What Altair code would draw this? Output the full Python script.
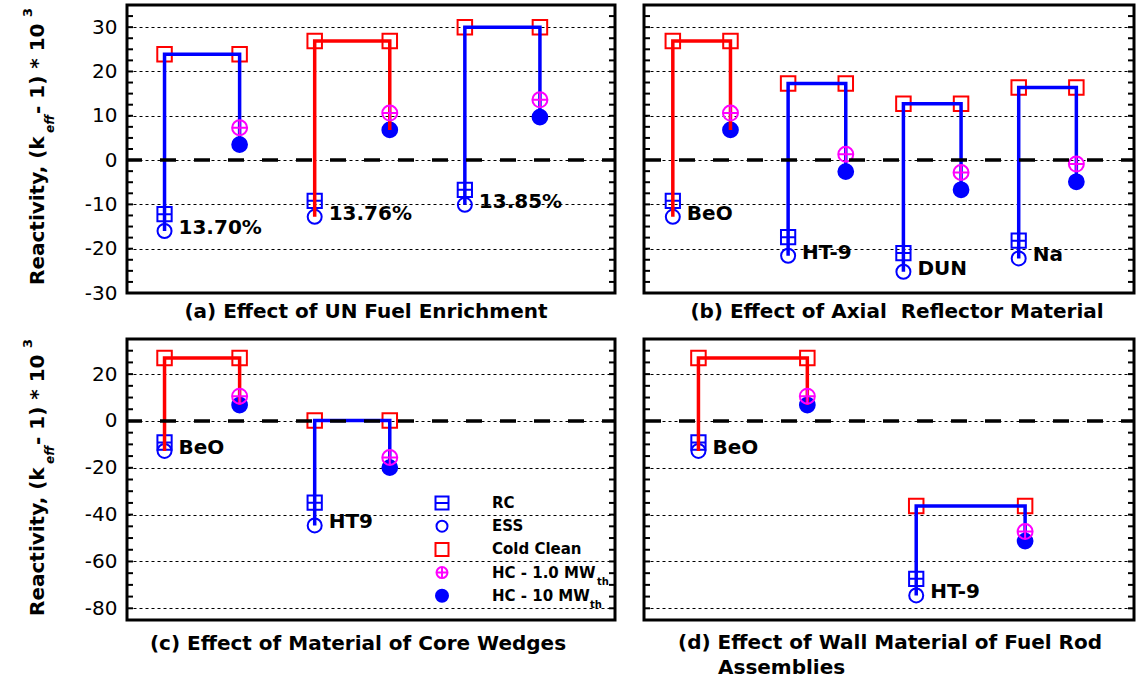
import altair as alt
import numpy as np
import pandas as pd

FONT = "DejaVu Sans"
BLUE, RED, MAGENTA = "#0000ff", "#ff0000", "#ff00ff"

# ---- (a) UN fuel enrichment ----
a_cases = ["13.70%", "13.76%", "13.85%"]
a_rc = [-12.2, -9.2, -6.7]
a_ess = [-16.0, -12.8, -10.1]
a_cold = [23.9, 26.9, 30.0]
a_hc1 = [7.3, 10.6, 13.6]
a_hc10 = [3.5, 6.8, 9.7]

# ---- (b) axial reflector material ----
b_cases = ["BeO", "HT-9", "DUN", "Na"]
b_rc = [-9.2, -17.4, -21.0, -18.2]
b_ess = [-12.8, -21.6, -25.2, -22.2]
b_cold = [26.9, 17.3, 12.7, 16.4]
b_hc1 = [10.6, 1.3, -2.8, -0.9]
b_hc10 = [6.8, -2.6, -6.7, -4.9]

# ---- (c) core wedge material ----
c_cases = ["BeO", "HT9"]
c_rc = [-9.2, -34.9]
c_ess = [-12.8, -44.6]
c_cold = [26.9, 0.2]
c_hc1 = [10.6, -15.6]
c_hc10 = [6.8, -19.9]

# ---- (d) fuel rod assembly wall material ----
d_cases = ["BeO", "HT-9"]
d_rc = [-9.2, -67.4]
d_ess = [-12.8, -74.5]
d_cold = [26.9, -36.3]
d_hc1 = [10.6, -47.2]
d_hc10 = [6.8, -51.3]

# marker styles per state
SERIES = ["ESS", "RC", "Cold Clean", "HC - 10 MW", "HC - 1.0 MW"]
SHAPES = {
    "ESS": "circle",
    "RC": "M-1,-1H1V1H-1Z M-1,0H1",
    "Cold Clean": "square",
    "HC - 10 MW": "circle",
    "HC - 1.0 MW": "M-1,0A1,1 0 1,1 1,0A1,1 0 1,1 -1,0Z M-1,0H1 M0,-1V1",
}
STROKES = {"ESS": BLUE, "RC": BLUE, "Cold Clean": RED, "HC - 10 MW": BLUE, "HC - 1.0 MW": MAGENTA}
FILLS = {"ESS": "transparent", "RC": "transparent", "Cold Clean": "transparent",
         "HC - 10 MW": BLUE, "HC - 1.0 MW": "transparent"}
SIZES = {"ESS": 196, "RC": 225, "Cold Clean": 289, "HC - 10 MW": 256, "HC - 1.0 MW": 225}

shape_enc = alt.Shape("series:N", scale=alt.Scale(domain=SERIES, range=[SHAPES[s] for s in SERIES]), legend=None)
stroke_enc = alt.Stroke("series:N", scale=alt.Scale(domain=SERIES, range=[STROKES[s] for s in SERIES]), legend=None)
fill_enc = alt.Fill("series:N", scale=alt.Scale(domain=SERIES, range=[FILLS[s] for s in SERIES]), legend=None)
size_enc = alt.Size("series:N", scale=alt.Scale(domain=SERIES, range=[SIZES[s] for s in SERIES]), legend=None)
line_color = alt.Color("role:N", scale=alt.Scale(domain=["reference", "variant"], range=[RED, BLUE]), legend=None)


def one_row():
    return alt.Data(values=[{"k": 0}])


def note(text, xp, yp, size=20, align="left", baseline="middle", style="normal", angle=None):
    props = dict(text=text, align=align, baseline=baseline, font=FONT, fontSize=size,
                 fontWeight="bold", fontStyle=style, color="black")
    if angle is not None:
        props["angle"] = angle
    return alt.Chart(one_row()).mark_text(**props).encode(x=alt.value(xp), y=alt.value(yp))


def y_title_layers(y_start):
    """Rotated axis title built from pieces so 'eff' and '3' can be sub/superscripts."""
    pieces = [
        ("Reactivity, (k", -83, 0, 20, "normal"),
        ("eff", -73, 152, 12, "italic"),
        (" - 1) * 10", -83, 171, 20, "normal"),
        ("3", -95, 268, 13, "normal"),
    ]
    return [note(t, xp, y_start - along, size=fs, baseline="alphabetic", style=st, angle=270)
            for t, xp, along, fs, st in pieces]


def legend_layers():
    rows = ["RC", "ESS", "Cold Clean", "HC - 1.0 MW", "HC - 10 MW"]
    small = {"RC": 169, "ESS": 121, "Cold Clean": 169, "HC - 1.0 MW": 121, "HC - 10 MW": 144}
    out = []
    for i, name in enumerate(rows):
        ypix = 164 + 23.2 * i
        out.append(
            alt.Chart(alt.Data(values=[{"series": name}])).mark_point(strokeWidth=2, opacity=1).encode(
                x=alt.value(315), y=alt.value(ypix),
                shape=shape_enc, stroke=stroke_enc, fill=fill_enc, size=alt.value(small[name]),
            )
        )
        out.append(note(name, 365, ypix, size=15))
        if name.startswith("HC"):
            w = 105 if "1.0" in name else 98
            out.append(note("th", 365 + w, ypix + 9, size=10))
    return out


def panel(cases, rc, ess, cold, hc1, hc10, ref, ydom, majors, minor, xmax, width, height,
          title, show_labels, ytitle_start=None, legend=False, extra=None):
    pts, segs = [], []
    for i, case in enumerate(cases):
        x1, x2 = 2 * i + 0.5, 2 * i + 1.5
        vals = {"ESS": (x1, ess[i]), "RC": (x1, rc[i]), "Cold Clean": (x1, cold[i]),
                "HC - 10 MW": (x2, hc10[i]), "HC - 1.0 MW": (x2, hc1[i])}
        for s in SERIES:
            pts.append({"case": case, "series": s, "x": vals[s][0], "value": vals[s][1]})
        pts.append({"case": case, "series": "Cold Clean", "x": x2, "value": cold[i]})
        role = "reference" if case == ref else "variant"
        for step, (xx, vv) in enumerate([(x1, ess[i]), (x1, cold[i]), (x2, cold[i]), (x2, hc10[i])]):
            segs.append({"case": case, "role": role, "step": step, "x": xx, "value": vv})
    pts = pd.DataFrame(pts)
    order = {s: k for k, s in enumerate(SERIES)}
    pts["rank"] = pts["series"].map(order)
    pts = pts.sort_values("rank", kind="stable")
    segs = pd.DataFrame(segs)
    labels = pd.DataFrame({"case": cases, "x": [2 * i + 0.5 for i in range(len(cases))], "value": ess})

    y_axis = alt.Axis(
        values=majors, grid=True, gridDash=[3, 3], gridColor="black", gridWidth=1,
        ticks=False, domain=False, labels=show_labels, labelFont=FONT, labelFontSize=20,
        labelColor="black", labelPadding=10, labelExpr="'' + datum.value", title=None,
    )
    Y = alt.Y("value:Q", scale=alt.Scale(domain=ydom, nice=False, zero=False), axis=y_axis)
    X = alt.X("x:Q", scale=alt.Scale(domain=[0, xmax], nice=False, zero=False), axis=None)

    tick_df = pd.DataFrame({"value": np.arange(ydom[0], ydom[1] + 0.01, minor)})
    ticks_l = alt.Chart(tick_df).mark_rule(color="black", strokeWidth=2).encode(
        y=Y, x=alt.value(0), x2=alt.value(6))
    ticks_r = alt.Chart(tick_df).mark_rule(color="black", strokeWidth=2).encode(
        y=Y, x=alt.value(width - 6), x2=alt.value(width))

    base_pts = alt.Chart(pts[pts["series"] != "HC - 1.0 MW"]).mark_point(strokeWidth=2, opacity=1).encode(
        x=X, y=Y, shape=shape_enc, stroke=stroke_enc, fill=fill_enc, size=size_enc)
    lines = alt.Chart(segs).mark_line(strokeWidth=3.5, strokeJoin="miter").encode(
        x=X, y=Y, color=line_color, detail="case:N", order="step:Q")
    top_pts = alt.Chart(pts[pts["series"] == "HC - 1.0 MW"]).mark_point(strokeWidth=2, opacity=1).encode(
        x=X, y=Y, shape=shape_enc, stroke=stroke_enc, fill=fill_enc, size=size_enc)
    zero = alt.Chart(pd.DataFrame({"value": [0]})).mark_rule(
        color="black", strokeWidth=3.5, strokeDash=[16, 18], strokeDashOffset=3).encode(y=Y)
    text = alt.Chart(labels).mark_text(
        align="left", baseline="middle", dx=14, dy=-3, font=FONT, fontSize=20,
        fontWeight="bold", color="black").encode(x=X, y=Y, text="case:N")

    layers = [ticks_l, ticks_r, base_pts, lines, top_pts, zero, text]
    if ytitle_start is not None:
        layers += y_title_layers(ytitle_start)
    if legend:
        layers += legend_layers()
    if extra:
        layers += extra
    props = dict(width=width, height=height)
    if title is not None:
        props["title"] = title
    return alt.layer(*layers).properties(**props)


def ttl(text, dx=0, offset=0, **kw):
    return alt.TitleParams(text, orient="bottom", frame="group", offset=offset, dx=dx,
                           font=FONT, fontSize=20, fontWeight="bold", color="black", **kw)


top_major = [-30, -20, -10, 0, 10, 20, 30]
bot_major = [-80, -60, -40, -20, 0, 20]

pa = panel(a_cases, a_rc, a_ess, a_cold, a_hc1, a_hc10, "13.76%", [-30, 35], top_major, 2.5,
           6.5, 488, 288, ttl("(a) Effect of UN Fuel Enrichment", dx=-5, offset=-1), True,
           ytitle_start=280)
pb = panel(b_cases, b_rc, b_ess, b_cold, b_hc1, b_hc10, "BeO", [-30, 35], top_major, 2.5,
           8.5, 490, 288, ttl("(b) Effect of Axial\u00a0 Reflector Material", dx=8, offset=8), False)
pc = panel(c_cases, c_rc, c_ess, c_cold, c_hc1, c_hc10, "BeO", [-85, 35], bot_major, 5,
           6.5, 488, 281, ttl("(c) Effect of Material of Core Wedges", dx=-13, offset=13), True,
           ytitle_start=277, legend=True)
# (d) carries a two-line caption with an indented second line
pd_ = panel(d_cases, d_rc, d_ess, d_cold, d_hc1, d_hc10, "BeO", [-85, 35], bot_major, 5,
            4.5, 490, 281, None, False,
            extra=[note("(d) Effect of Wall Material of Fuel Rod", 34, 281 + 23),
                   note("Assemblies", 74, 281 + 48)])

chart = alt.concat(pa, pb, pc, pd_, columns=2, spacing={"row": 12, "column": 21}, align="each").properties(
    padding={"left": 20, "top": 2, "right": 0, "bottom": 0},
    background="white",
).configure_view(stroke="black", strokeWidth=3)

chart.save("out.html", embed_options={"renderer": "svg", "actions": False})
